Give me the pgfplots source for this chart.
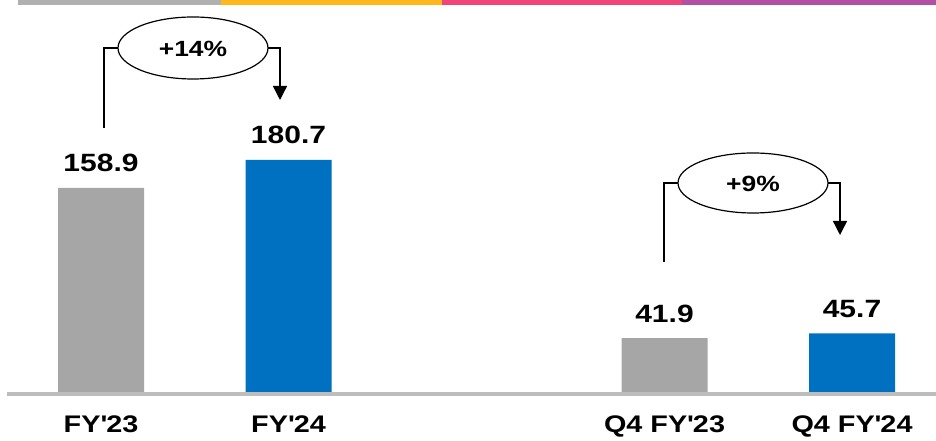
\documentclass[border=0pt]{standalone}
\usepackage{fontspec}
\setmainfont[FakeStretch=1.2]{Liberation Sans}
\usepackage{pgfplots}
\pgfplotsset{compat=1.18}
\usetikzlibrary{arrows.meta}
\definecolor{bargray}{HTML}{A6A6A6}
\definecolor{barblue}{HTML}{0070C0}
\definecolor{stripgray}{HTML}{B0B0B0}
\definecolor{stripyellow}{HTML}{FFB81C}
\definecolor{strippink}{HTML}{F0457A}
\definecolor{strippurple}{HTML}{B04FA3}
\definecolor{basegray}{HTML}{BDBDBD}
\begin{document}
\begin{tikzpicture}
\useasboundingbox (0pt,-49pt) rectangle (936pt,392pt);
\begin{axis}[
  scale only axis,
  width=936pt, height=392pt,
  xmin=0, xmax=936, ymin=0, ymax=305.3,
  axis y line=none,
  axis x line*=bottom,
  x axis line style={draw=none},
  major tick length=0pt,
  xtick style={draw=none},
  xtick={101,288.5,664.5,852},
  xticklabels={FY\textquotesingle 23,FY\textquotesingle 24,Q4 FY\textquotesingle 23,Q4 FY\textquotesingle 24},
  xticklabel style={font=\bfseries\fontsize{24}{27}\selectfont, anchor=base, inner sep=0pt, yshift=-40pt},
  ybar, bar width=86pt, bar shift=0pt,
  point meta=explicit symbolic,
  nodes near coords,
  nodes near coords style={font=\bfseries\fontsize{25}{28}\selectfont, anchor=base, inner sep=0pt, yshift=16pt, text=black},
  clip=false,
]
\addplot[fill=bargray, draw=none] coordinates {(101,158.9) [158.9] (664.5,41.9) [41.9]};
\addplot[fill=barblue, draw=none] coordinates {(288.5,180.7) [180.7] (852,45.7) [45.7]};
\end{axis}
% top strip
\fill[stripgray] (18pt,387pt) rectangle (221pt,392pt);
\fill[stripyellow] (221pt,387pt) rectangle (442pt,392pt);
\fill[strippink] (442pt,387pt) rectangle (682pt,392pt);
\fill[strippurple] (682pt,387pt) rectangle (936pt,392pt);
% baseline
\draw[basegray, line width=3.2pt] (7pt,-2pt) -- (936pt,-2pt);
% annotation 1
\draw[line width=1.4pt] (104pt,264pt) -- (104pt,344pt) -- (118pt,344pt);
\draw[line width=1.4pt, -{Triangle[width=14pt,length=14pt]}] (268pt,344pt) -- (280pt,344pt) -- (280pt,292pt);
\draw[line width=1.2pt, fill=white] (193pt,344pt) ellipse [x radius=75pt, y radius=31pt];
\node[font=\bfseries\fontsize{22}{25}\selectfont] at (193pt,343pt) {+14\%};
% annotation 2
\draw[line width=1.4pt] (664pt,130pt) -- (664pt,209pt) -- (678pt,209pt);
\draw[line width=1.4pt, -{Triangle[width=14pt,length=14pt]}] (828pt,209pt) -- (840pt,209pt) -- (840pt,157pt);
\draw[line width=1.2pt, fill=white] (753pt,209pt) ellipse [x radius=75pt, y radius=30pt];
\node[font=\bfseries\fontsize{22}{25}\selectfont] at (753pt,208pt) {+9\%};
\end{tikzpicture}
\end{document}
